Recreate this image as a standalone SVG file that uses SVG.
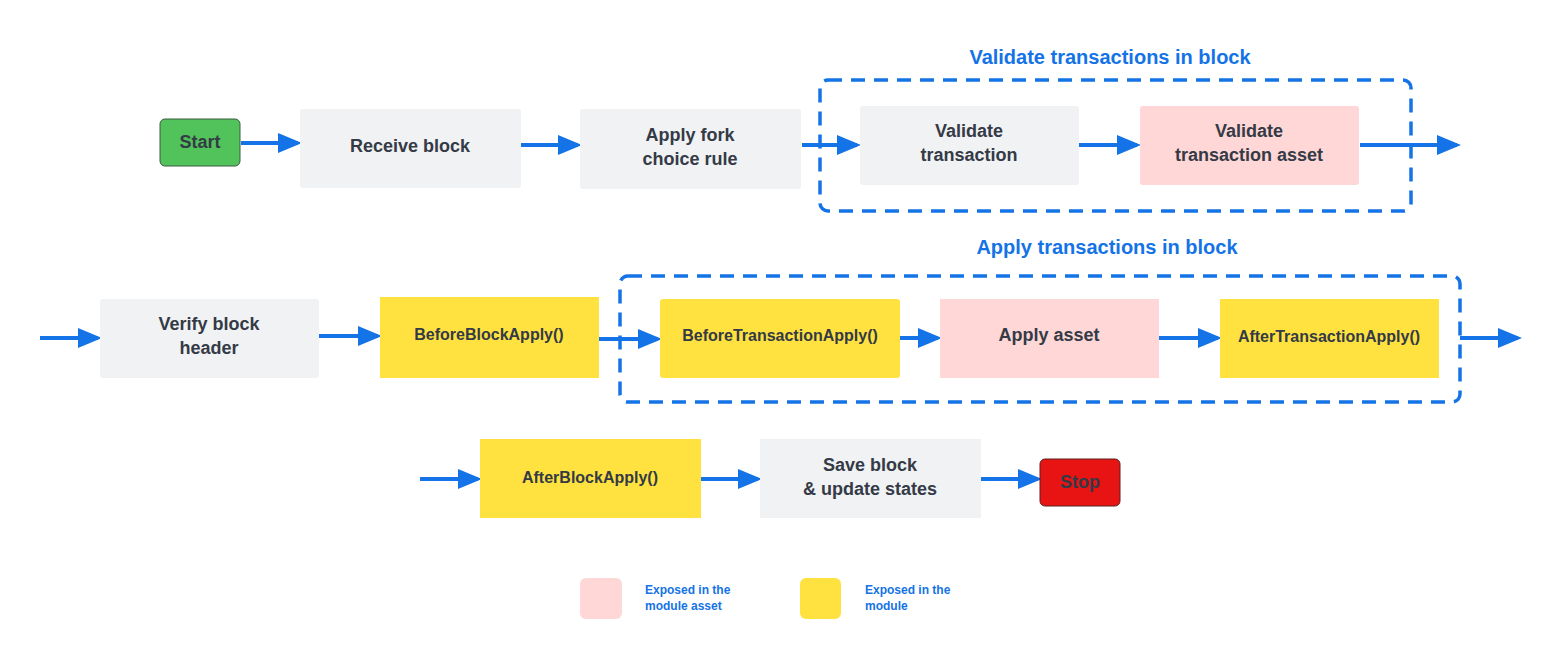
<svg xmlns="http://www.w3.org/2000/svg" width="1554" height="659" viewBox="0 0 1554 659">
<style>
text{font-family:"Liberation Sans",Arial,sans-serif;font-weight:bold;text-anchor:middle}
.t{font-size:18px;fill:#343a46}
.s{font-size:16px;fill:#343a46}
.g{fill:#f1f2f4}
.p{fill:#ffd7d7}
.y{fill:#ffe23f}
.c{stroke:#1473e6;stroke-width:4;fill:none}
.d{stroke:#1473e6;stroke-width:3.5;fill:none;stroke-dasharray:14 9}
.h{font-size:20px;fill:#1473e6}
.l{font-size:12px;fill:#1473e6;text-anchor:start}
</style>
<defs><marker id="a" markerWidth="6" markerHeight="5" refX="5" refY="2.5" orient="auto"><path d="M0,0L6,2.5L0,5z" fill="#1473e6"/></marker></defs>
<rect fill="#fff" width="1554" height="659"/>
<g id="groups">
<rect class="d" x="820" y="80" width="591" height="131" rx="8"/>
<text class="h" x="1110" y="64">Validate transactions in block</text>
<rect class="d" x="620" y="276" width="840" height="126" rx="8"/>
<text class="h" x="1107" y="254">Apply transactions in block</text>
</g>
<g id="connectors">
<path class="c" marker-end="url(#a)" d="M241,143H298"/>
<path class="c" marker-end="url(#a)" d="M521,145H578"/>
<path class="c" marker-end="url(#a)" d="M802,145H857"/>
<path class="c" marker-end="url(#a)" d="M1079,145H1137"/>
<path class="c" marker-end="url(#a)" d="M1360,145H1457"/>
<path class="c" marker-end="url(#a)" d="M40,338H98"/>
<path class="c" marker-end="url(#a)" d="M319,336H378"/>
<path class="c" marker-end="url(#a)" d="M599,339H658"/>
<path class="c" marker-end="url(#a)" d="M900,338H938"/>
<path class="c" marker-end="url(#a)" d="M1159,338H1218"/>
<path class="c" marker-end="url(#a)" d="M1460,338H1518"/>
<path class="c" marker-end="url(#a)" d="M420,479H478"/>
<path class="c" marker-end="url(#a)" d="M701,479H758"/>
<path class="c" marker-end="url(#a)" d="M981,479H1038"/>
</g>
<g id="start"><rect x="160" y="119" width="80" height="47" rx="5" fill="#52c35a" stroke="#3a5a40" stroke-width="1"/><text class="t" x="200" y="148">Start</text></g>
<g id="receive"><rect class="g" x="300" y="109" width="221" height="79" rx="3"/><text class="t" x="410" y="152">Receive block</text></g>
<g id="fork"><rect class="g" x="580" y="109" width="221" height="80" rx="3"/><text class="t" x="690" y="141">Apply fork</text><text class="t" x="690" y="165">choice rule</text></g>
<g id="validate"><rect class="g" x="860" y="106" width="219" height="79" rx="3"/><text class="t" x="969" y="137">Validate</text><text class="t" x="969" y="161">transaction</text></g>
<g id="validateasset"><rect class="p" x="1140" y="106" width="219" height="79" rx="3"/><text class="t" x="1249" y="137">Validate</text><text class="t" x="1249" y="161">transaction asset</text></g>
<g id="verify"><rect class="g" x="100" y="299" width="219" height="79" rx="3"/><text class="t" x="209" y="330">Verify block</text><text class="t" x="209" y="354">header</text></g>
<g id="bba"><rect class="y" x="380" y="297" width="219" height="81"/><text class="s" x="489" y="340">BeforeBlockApply()</text></g>
<g id="bta"><rect class="y" x="660" y="299" width="240" height="79" rx="3"/><text class="s" x="780" y="341">BeforeTransactionApply()</text></g>
<g id="aa"><rect class="p" x="940" y="299" width="219" height="79"/><text class="t" x="1049" y="341">Apply asset</text></g>
<g id="ata"><rect class="y" x="1220" y="299" width="219" height="79"/><text class="s" x="1329" y="342">AfterTransactionApply()</text></g>
<g id="aba"><rect class="y" x="480" y="439" width="221" height="79"/><text class="s" x="590" y="483">AfterBlockApply()</text></g>
<g id="save"><rect class="g" x="760" y="439" width="221" height="79"/><text class="t" x="870" y="471">Save block</text><text class="t" x="870" y="495">&amp; update states</text></g>
<g id="stop"><rect x="1040" y="459" width="80" height="47" rx="5" fill="#e81313" stroke="#5a2020" stroke-width="1"/><text class="t" x="1080" y="488">Stop</text></g>
<g id="legend">
<rect class="p" x="580" y="578" width="42" height="41" rx="6"/><text class="l" x="645" y="594">Exposed in the</text><text class="l" x="645" y="610">module asset</text>
<rect class="y" x="800" y="578" width="41" height="41" rx="6"/><text class="l" x="865" y="594">Exposed in the</text><text class="l" x="865" y="610">module</text>
</g>
</svg>
